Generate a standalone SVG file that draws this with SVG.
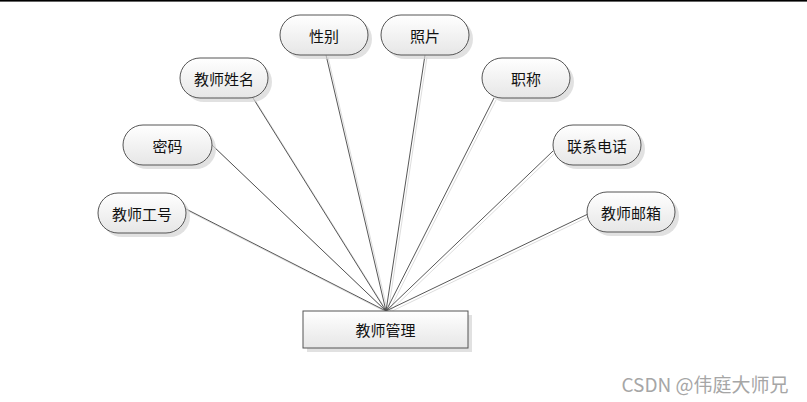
<svg xmlns="http://www.w3.org/2000/svg" width="807" height="402" viewBox="0 0 807 402">
<defs>
<linearGradient id="g" x1="0" y1="0" x2="0" y2="1">
<stop offset="0" stop-color="#ffffff"/>
<stop offset="1" stop-color="#e6e6e6"/>
</linearGradient>
<style>
.n{fill:url(#g);stroke:#555;stroke-width:1}
.sh{fill:#d4d4d4;opacity:0.7}
.t{font-family:"Noto Sans CJK SC","Noto Sans",sans-serif;font-size:15px;fill:#111;text-anchor:middle;dominant-baseline:central}
.c{stroke:#444;stroke-width:0.9;fill:none}
.cs{stroke:#ddd;stroke-width:1;fill:none}
</style>
</defs>
<rect x="0" y="0" width="807" height="402" fill="#fff"/>
<rect x="0" y="0" width="807" height="1.6" fill="#000"/>
<g id="connectors">
<g transform="translate(2,2)">
<line class="cs" x1="186" y1="209" x2="386" y2="311"/>
<line class="cs" x1="212" y1="145" x2="386" y2="311"/>
<line class="cs" x1="253" y1="98" x2="386" y2="311"/>
<line class="cs" x1="326" y1="55" x2="386" y2="311"/>
<line class="cs" x1="425" y1="55" x2="386" y2="311"/>
<line class="cs" x1="494" y1="98" x2="386" y2="311"/>
<line class="cs" x1="553" y1="151" x2="386" y2="311"/>
<line class="cs" x1="588" y1="214" x2="386" y2="311"/>
</g>
<line class="c" x1="186" y1="209" x2="386" y2="311"/>
<line class="c" x1="212" y1="145" x2="386" y2="311"/>
<line class="c" x1="253" y1="98" x2="386" y2="311"/>
<line class="c" x1="326" y1="55" x2="386" y2="311"/>
<line class="c" x1="425" y1="55" x2="386" y2="311"/>
<line class="c" x1="494" y1="98" x2="386" y2="311"/>
<line class="c" x1="553" y1="151" x2="386" y2="311"/>
<line class="c" x1="588" y1="214" x2="386" y2="311"/>
</g>
<g id="n1"><rect class="sh" x="102" y="197" width="88" height="40" rx="20"/><rect class="n" x="98" y="193" width="88" height="40" rx="20"/><text class="t" x="142" y="213">教师工号</text></g>
<g id="n2"><rect class="sh" x="127" y="129" width="89" height="40" rx="20"/><rect class="n" x="123" y="125" width="89" height="40" rx="20"/><text class="t" x="167.5" y="145">密码</text></g>
<g id="n3"><rect class="sh" x="184" y="62" width="88" height="40" rx="20"/><rect class="n" x="180" y="58" width="88" height="40" rx="20"/><text class="t" x="224" y="78">教师姓名</text></g>
<g id="n4"><rect class="sh" x="284" y="19" width="88" height="40" rx="20"/><rect class="n" x="280" y="15" width="88" height="40" rx="20"/><text class="t" x="324" y="35">性别</text></g>
<g id="n5"><rect class="sh" x="385" y="19" width="88" height="40" rx="20"/><rect class="n" x="381" y="15" width="88" height="40" rx="20"/><text class="t" x="425" y="35">照片</text></g>
<g id="n6"><rect class="sh" x="486" y="62" width="88" height="40" rx="20"/><rect class="n" x="482" y="58" width="88" height="40" rx="20"/><text class="t" x="526" y="78">职称</text></g>
<g id="n7"><rect class="sh" x="557" y="129" width="88" height="40" rx="20"/><rect class="n" x="553" y="125" width="88" height="40" rx="20"/><text class="t" x="597" y="145">联系电话</text></g>
<g id="n8"><rect class="sh" x="591" y="196" width="88" height="40" rx="20"/><rect class="n" x="587" y="192" width="88" height="40" rx="20"/><text class="t" x="631" y="212">教师邮箱</text></g>
<g id="main"><rect class="sh" x="307" y="315" width="165" height="37"/><rect class="n" x="303" y="311" width="165" height="37"/><text class="t" x="385.5" y="329.5">教师管理</text></g>
<text x="705" y="383" font-family="'Noto Sans CJK SC','Noto Sans',sans-serif" font-size="19" fill="#a6a6a6" text-anchor="middle" dominant-baseline="central">CSDN @伟庭大师兄</text>
</svg>
